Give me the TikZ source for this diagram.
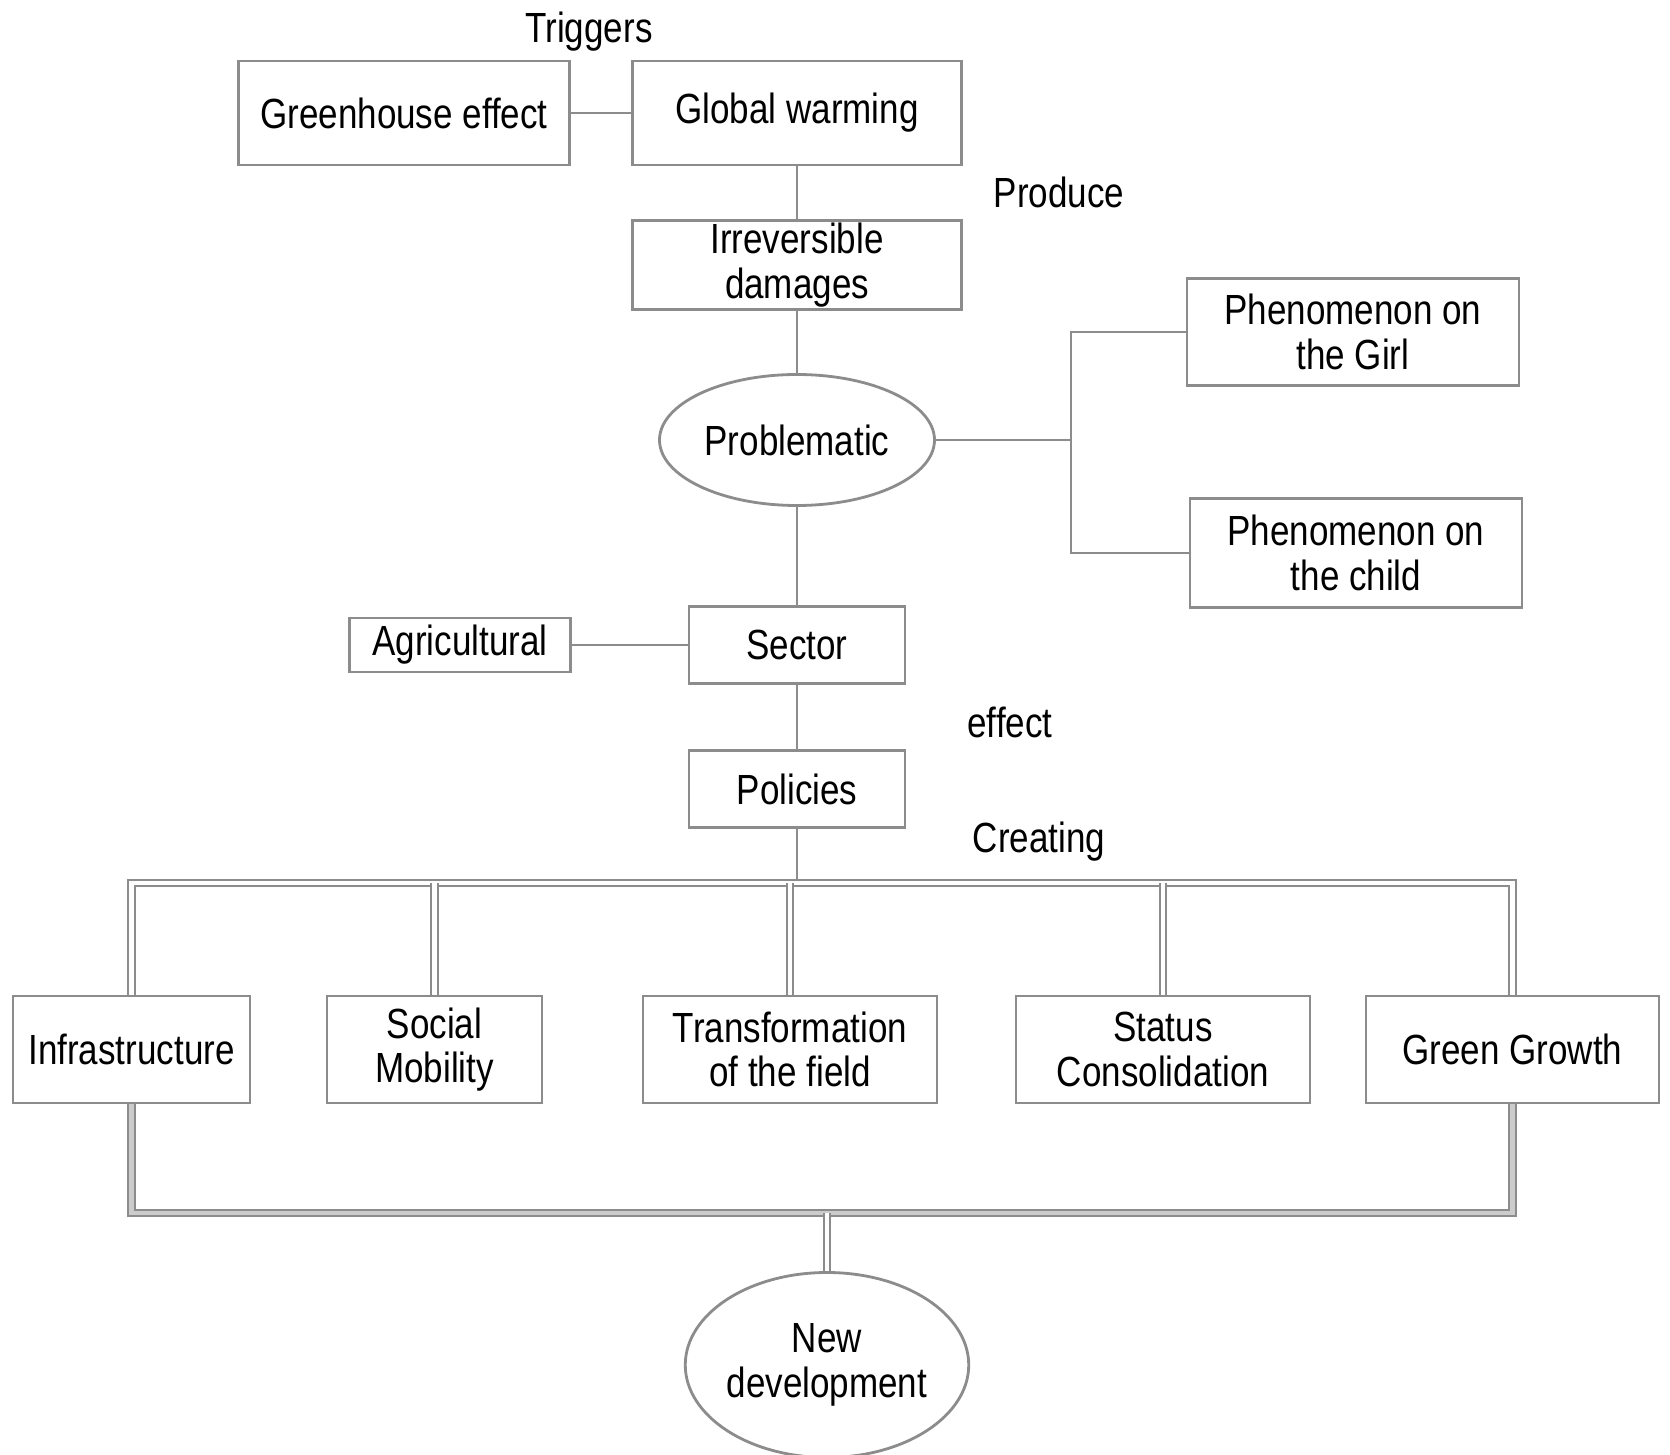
\documentclass[tikz,border=0pt]{standalone}
\usepackage{fontspec}
\setmainfont{Liberation Sans}[FakeStretch=0.83]
\usetikzlibrary{shapes.geometric}
\definecolor{linegray}{RGB}{140,140,140}
\begin{document}
\begin{tikzpicture}[font=\fontsize{12}{12.6}\selectfont,
                    bus/.style={draw=linegray,line width=0.6pt,double=white,double distance=1.2pt}]
                \useasboundingbox (0,0) rectangle (16.7,-14.55);
                \begin{scope}[every node/.style={rectangle,draw=linegray,line width=0.8pt,inner sep=0pt,align=center}]
                    \node[minimum width=3.31cm,minimum height=1.04cm] (GE) at (4.04,-1.13) {Greenhouse effect};
                    \node[minimum width=3.29cm,minimum height=1.04cm] (GW) at (7.97,-1.13) {Global warming};
                    \node[minimum width=3.29cm,minimum height=0.89cm] (ID) at (7.97,-2.65) {Irreversible\\damages};
                    \node[ellipse,minimum width=2.75cm,minimum height=1.31cm] (P) at (7.97,-4.40) {Problematic};
                    \node[minimum width=3.32cm,minimum height=1.07cm] (PG) at (13.53,-3.32) {Phenomenon on\\the Girl};
                    \node[minimum width=3.32cm,minimum height=1.09cm] (PC) at (13.56,-5.53) {Phenomenon on\\the child};
                    \node[minimum width=2.16cm,minimum height=0.77cm] (S) at (7.97,-6.45) {Sector};
                    \node[minimum width=2.21cm,minimum height=0.54cm] (AG) at (4.60,-6.45) {Agricultural};
                    \node[minimum width=2.16cm,minimum height=0.77cm] (PO) at (7.97,-7.89) {Policies};
                    \node[minimum width=2.37cm,minimum height=1.07cm] (IN) at (1.315,-10.495) {Infrastructure};
                    \node[minimum width=2.15cm,minimum height=1.07cm] (SM) at (4.345,-10.495) {Social\\Mobility};
                    \node[minimum width=2.94cm,minimum height=1.07cm] (TF) at (7.90,-10.495) {Transformation\\of the field};
                    \node[minimum width=2.94cm,minimum height=1.07cm] (SC) at (11.63,-10.495) {Status\\Consolidation};
                    \node[minimum width=2.93cm,minimum height=1.07cm] (GG) at (15.125,-10.495) {Green Growth};
                    \node[ellipse,minimum width=2.80cm,minimum height=1.85cm] (ND) at (8.27,-13.65) {New\\development};
                \end{scope}

                \node (TR) at (5.89,-0.32) {Triggers};
                \node (PR) at (10.59,-1.92) {Produce};
                \node (EF) at (10.10,-7.22) {effect};
                \node (CR) at (10.39,-8.42) {Creating};

                \coordinate (J) at (10.71,-4.40);
                \coordinate (TB) at (7.97,-8.83);
                \coordinate (BB) at (8.27,-12.13);

                \begin{scope}[every edge/.style={draw=linegray,line width=0.8pt}]
                    \path [-] (GE) edge (GW);
                    \path [-] (GW) edge (ID);
                    \path [-] (ID) edge (P);
                    \path [-] (P) edge (J);
                    \path [-] (P) edge (S);
                    \path [-] (AG) edge (S);
                    \path [-] (S) edge (PO);
                    \path [-] (PO) edge (TB);
                \end{scope}
                \draw[linegray,line width=0.8pt] (PG.west) -| (J) |- (PC.west);

                \draw[bus] (IN.north) -- (IN.north |- TB) -- (GG.north |- TB) -- (GG.north);
                \draw[bus] (SM.north) -- (SM.north |- TB);
                \draw[bus] (TF.north) -- (TF.north |- TB);
                \draw[bus] (SC.north) -- (SC.north |- TB);
                \draw[bus,double=gray!40] (IN.south) -- (IN.south |- BB) -- (GG.south |- BB) -- (GG.south);
                \draw[bus] (BB) -- (ND.north);
            \end{tikzpicture}
\end{document}
